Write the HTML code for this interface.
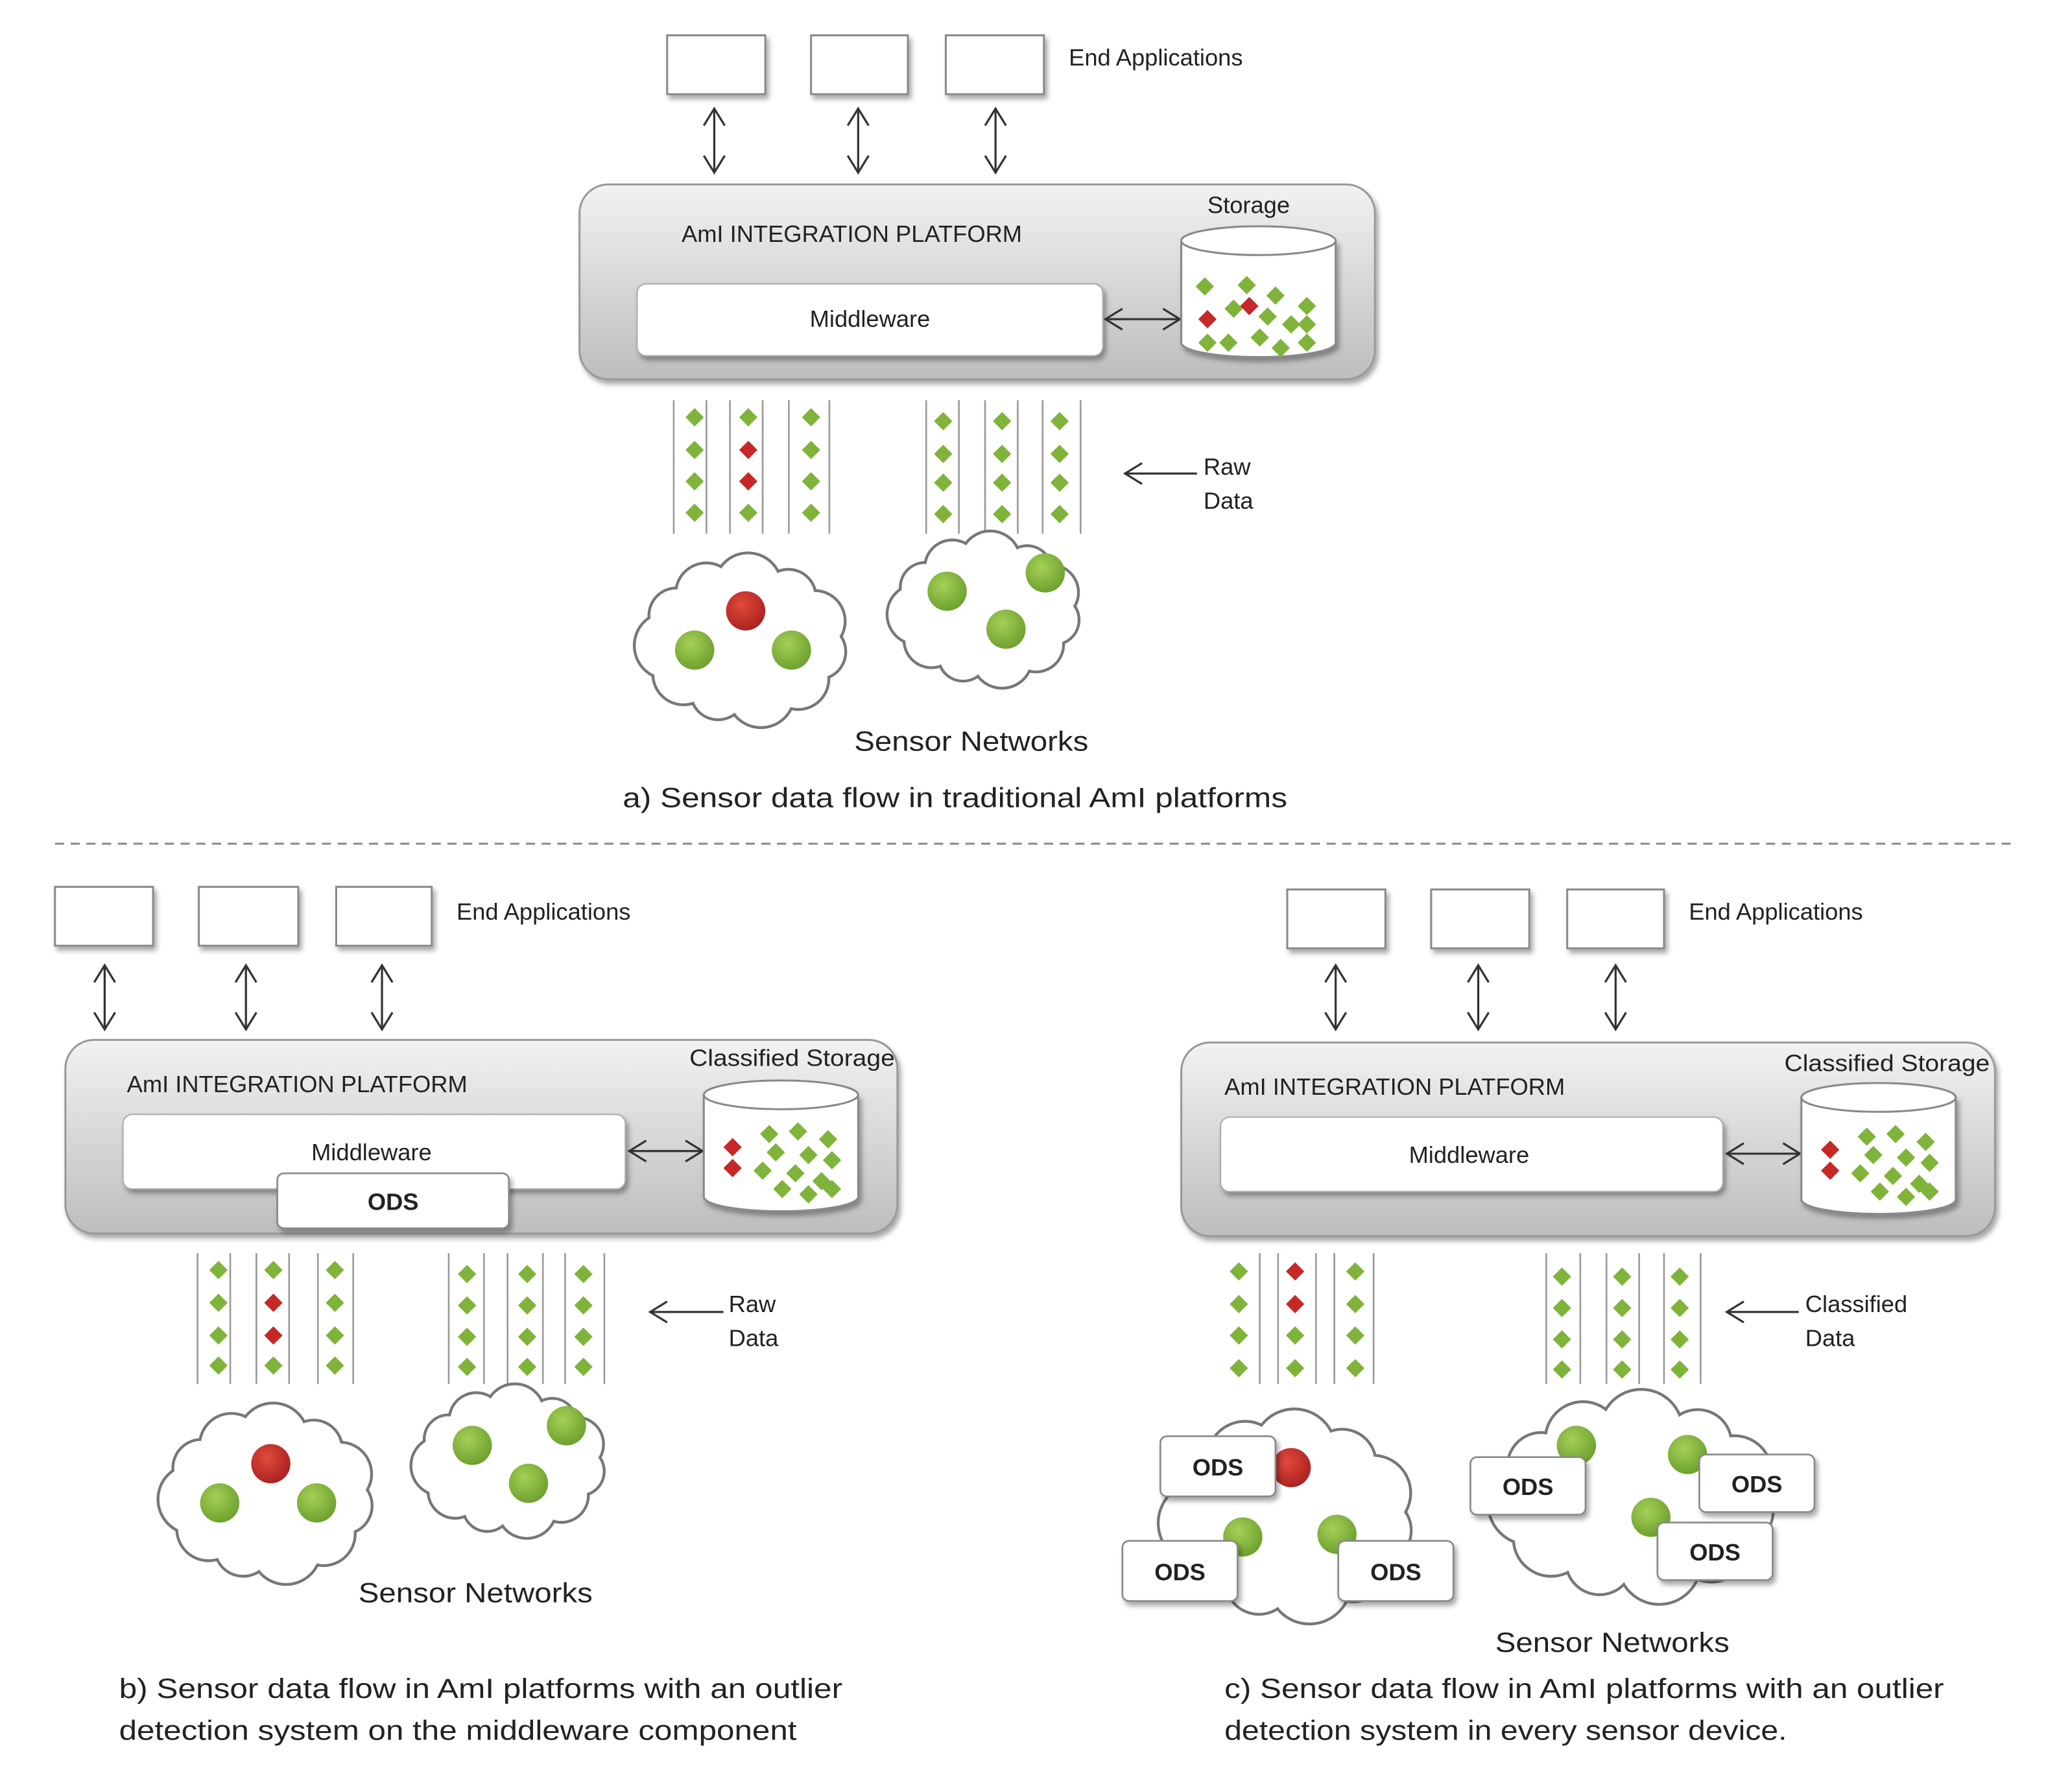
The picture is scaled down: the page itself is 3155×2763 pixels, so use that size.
<!DOCTYPE html>
<html><head><meta charset="utf-8"><style>
html,body{margin:0;padding:0;background:#fff;}
svg{display:block;}
text{font-family:"Liberation Sans",sans-serif;fill:#222;}
</style></head><body>
<svg id="s" width="3155" height="2763" viewBox="0 0 1564 1370" preserveAspectRatio="none" xmlns="http://www.w3.org/2000/svg">
<defs>
<linearGradient id="plat" x1="0" y1="0" x2="0" y2="1">
<stop offset="0" stop-color="#f2f2f2"/><stop offset="1" stop-color="#bdbdbd"/></linearGradient>
<radialGradient id="gg" cx="0.4" cy="0.35" r="0.7"><stop offset="0" stop-color="#a6d057"/><stop offset="1" stop-color="#6a9e2c"/></radialGradient>
<radialGradient id="rg" cx="0.4" cy="0.35" r="0.7"><stop offset="0" stop-color="#e04a3a"/><stop offset="1" stop-color="#a82020"/></radialGradient>
<filter id="sh" x="-10%" y="-10%" width="130%" height="140%"><feDropShadow dx="2" dy="3" stdDeviation="2" flood-color="#000" flood-opacity="0.35"/></filter>
</defs>
<g id="shapes"></g>
<g id="texts" font-size="18">
<text x="817" y="50">End Applications</text>
<text x="521" y="185">AmI INTEGRATION PLATFORM</text>
<text x="923" y="163">Storage</text>
<text x="665" y="250" text-anchor="middle">Middleware</text>
<text x="920" y="363">Raw</text><text x="920" y="389">Data</text>
<text x="653" y="574" font-size="21" textLength="179" lengthAdjust="spacingAndGlyphs">Sensor Networks</text>
<text x="476" y="617" font-size="21" textLength="508" lengthAdjust="spacingAndGlyphs">a) Sensor data flow in traditional AmI platforms</text>

<text x="349" y="703">End Applications</text>
<text x="97" y="835">AmI INTEGRATION PLATFORM</text>
<text x="527" y="815" textLength="157" lengthAdjust="spacingAndGlyphs">Classified Storage</text>
<text x="284" y="887" text-anchor="middle">Middleware</text>
<text x="557" y="1003">Raw</text><text x="557" y="1029">Data</text>
<text x="274" y="1225" font-size="21" textLength="179" lengthAdjust="spacingAndGlyphs">Sensor Networks</text>
<text x="91" y="1298" font-size="21" textLength="553" lengthAdjust="spacingAndGlyphs">b) Sensor data flow in AmI  platforms with an outlier</text>
<text x="91" y="1330" font-size="21" textLength="518" lengthAdjust="spacingAndGlyphs">detection  system on the middleware component</text>

<text x="1291" y="703">End Applications</text>
<text x="936" y="837">AmI INTEGRATION PLATFORM</text>
<text x="1364" y="819" textLength="157" lengthAdjust="spacingAndGlyphs">Classified Storage</text>
<text x="1123" y="889" text-anchor="middle">Middleware</text>
<text x="1380" y="1003">Classified</text><text x="1380" y="1029">Data</text>
<text x="1143" y="1263" font-size="21" textLength="179" lengthAdjust="spacingAndGlyphs">Sensor Networks</text>
<text x="936" y="1298" font-size="21" textLength="550" lengthAdjust="spacingAndGlyphs">c) Sensor data flow in AmI  platforms with an outlier</text>
<text x="936" y="1330" font-size="21" textLength="430" lengthAdjust="spacingAndGlyphs">detection  system in every sensor device.</text>
</g>
<g id="top"></g>
</svg>
<script>
var NS="http://www.w3.org/2000/svg",G=document.getElementById("shapes"),T=document.getElementById("top");
function el(t,a,p){var e=document.createElementNS(NS,t);for(var k in a)e.setAttribute(k,a[k]);(p||G).appendChild(e);return e;}
function box(x,y,w,h){el("rect",{x:x,y:y,width:w,height:h,fill:"#fff",stroke:"#8a8a8a","stroke-width":1.5,filter:"url(#sh)"});}
function varrow(x,y1,y2){el("line",{x1:x,y1:y1,x2:x,y2:y2,stroke:"#333","stroke-width":1.6});
 el("polyline",{points:(x-8)+","+(y1+13)+" "+x+","+y1+" "+(x+8)+","+(y1+13),fill:"none",stroke:"#333","stroke-width":1.6});
 el("polyline",{points:(x-8)+","+(y2-13)+" "+x+","+y2+" "+(x+8)+","+(y2-13),fill:"none",stroke:"#333","stroke-width":1.6});}
function harrow(x1,x2,y,both){el("line",{x1:x1,y1:y,x2:x2,y2:y,stroke:"#333","stroke-width":1.6});
 el("polyline",{points:(x1+13)+","+(y-8)+" "+x1+","+y+" "+(x1+13)+","+(y+8),fill:"none",stroke:"#333","stroke-width":1.6});
 if(both)el("polyline",{points:(x2-13)+","+(y-8)+" "+x2+","+y+" "+(x2-13)+","+(y+8),fill:"none",stroke:"#333","stroke-width":1.6});}
function dia(x,y,c,s){s=s||7;el("polygon",{points:x+","+(y-s)+" "+(x+s)+","+y+" "+x+","+(y+s)+" "+(x-s)+","+y,fill:c?"#c62828":"#7fb33a"});}
function plat(x,y,w,h){el("rect",{x:x,y:y,width:w,height:h,rx:22,fill:"url(#plat)",stroke:"#999","stroke-width":1.5,filter:"url(#sh)"});}
function mw(x,y,w,h){el("rect",{x:x,y:y,width:w,height:h,rx:7,fill:"#fff",stroke:"#aaa","stroke-width":1,filter:"url(#sh)"});}
function cyl(x1,x2,yt,yb,red,green){var cx=(x1+x2)/2,rx=(x2-x1)/2,ry=11;
 el("path",{d:"M"+x1+","+yt+" L"+x1+","+yb+" A"+rx+","+ry+" 0 0 0 "+x2+","+yb+" L"+x2+","+yt+" Z",fill:"#fff",stroke:"#888","stroke-width":1.5,filter:"url(#sh)"});
 el("ellipse",{cx:cx,cy:yt,rx:rx,ry:ry,fill:"#fff",stroke:"#888","stroke-width":1.5});
 green.forEach(function(p){dia(x1+p[0],yt+p[1],0,7);});red.forEach(function(p){dia(x1+p[0],yt+p[1],1,7);});}
function streams(lines,y1,y2,cols,ys,reds){lines.forEach(function(x){el("line",{x1:x,y1:y1,x2:x,y2:y2,stroke:"#999","stroke-width":1.3});});
 cols.forEach(function(c,i){ys.forEach(function(y,j){dia(c,y,reds[i]&&reds[i].indexOf(j)>=0,7);});});}
function cloud(x0,y0,x1,y1){var cx=(x0+x1)/2,cy=(y0+y1)/2,rx=(x1-x0)/2,ry=(y1-y0)/2,r=Math.min(rx,ry)*0.36,c=[],n=11;
 for(var i=0;i<n;i++){var a=i/n*2*Math.PI+0.2;c.push([cx+(rx-r)*Math.cos(a),cy+(ry-r)*Math.sin(a),r*(0.9+0.2*((i*7)%3)/2)]);}
 c.forEach(function(p){el("circle",{cx:p[0],cy:p[1],r:p[2],fill:"#fff",stroke:"#777","stroke-width":2.2});});
 el("ellipse",{cx:cx,cy:cy,rx:rx-r*0.9,ry:ry-r*0.9,fill:"#fff"});
 c.forEach(function(p){el("circle",{cx:p[0],cy:p[1],r:p[2]-1.1,fill:"#fff"});});}
function ball(x,y,red){el("circle",{cx:x,cy:y,r:15,fill:red?"url(#rg)":"url(#gg)"});}
function ods(x,y,w,h,p){var g=p||G;el("rect",{x:x,y:y,width:w,height:h,rx:5,fill:"#fff",stroke:"#888","stroke-width":1.3,filter:"url(#sh)"},g);
 var t=el("text",{x:x+w/2,y:y+h/2+7,"text-anchor":"middle","font-size":18,"font-weight":"bold"},g);t.textContent="ODS";}

box(510,27,75,45);box(620,27,74,45);box(723,27,75,45);
varrow(546,83,132);varrow(656,83,132);varrow(761,83,132);
plat(443,141,608,149);mw(487,217,356,55);harrow(845,902,244,true);
cyl(903,1021,184,262,[[20,60],[52,50]],[[18,35],[50,34],[72,42],[96,50],[40,52],[66,58],[84,64],[96,64],[20,78],[36,78],[60,74],[76,82],[96,78]]);
streams([515,540,558,583,603,634],306,408,[531,572,620],[319,344,368,392],{1:[1,2]});
streams([708,733,753,778,797,826],306,408,[721,766,810],[322,347,369,393],{});
harrow(860,915,362,false);
cloud(487,425,650,555);ball(570,467,1);ball(531,497);ball(605,497);
cloud(680,408,828,525);ball(724,452);ball(799,438);ball(769,481);
el("line",{x1:42,y1:645,x2:1537,y2:645,stroke:"#888","stroke-width":1.5,"stroke-dasharray":"7,5"});
box(42,678,75,45);box(152,678,76,45);box(257,678,73,45);
varrow(80,738,787);varrow(188,738,787);varrow(292,738,787);
plat(50,795,636,148);mw(94,852,384,57);ods(212,897,177,42);harrow(481,537,880,true);
cyl(538,656,837,915,[[22,40],[22,56]],[[50,30],[72,28],[95,34],[55,44],[80,46],[98,50],[45,58],[70,60],[90,66],[60,72],[80,76],[98,72]]);
streams([151,176,196,221,243,270],958,1058,[167,209,256],[971,996,1021,1044],{1:[1,2]});
streams([343,370,388,415,432,462],958,1058,[357,403,446],[974,998,1022,1045],{});
harrow(497,553,1003,false);
cloud(123,1075,288,1210);ball(207,1119,1);ball(168,1149);ball(242,1149);
cloud(316,1060,465,1175);ball(361,1105);ball(433,1090);ball(404,1134);
box(984,680,75,45);box(1094,680,75,45);box(1198,680,74,45);
varrow(1021,738,787);varrow(1130,738,787);varrow(1235,738,787);
plat(903,797,622,148);mw(933,854,384,57);harrow(1320,1376,882,true);
cyl(1377,1495,839,917,[[22,40],[22,56]],[[50,30],[72,28],[95,34],[55,44],[80,46],[98,50],[45,58],[70,60],[90,66],[60,72],[80,76],[98,72]]);
streams([963,977,1006,1020,1050],958,1058,[947,990,1036],[972,997,1021,1046],{1:[0,1]});
streams([1182,1208,1228,1253,1272,1300],958,1058,[1194,1240,1284],[976,1000,1024,1047],{});
harrow(1320,1375,1003,false);
cloud(888,1080,1083,1240);ball(987,1122,1);ball(950,1175);ball(1022,1173);
ods(887,1098,88,46,T);ods(858,1178,88,46,T);ods(1023,1178,88,46,T);
cloud(1140,1065,1360,1225);ball(1205,1105);ball(1290,1112);ball(1262,1160);
ods(1124,1114,88,44,T);ods(1299,1112,88,44,T);ods(1267,1164,88,44,T);
</script>
</body></html>
